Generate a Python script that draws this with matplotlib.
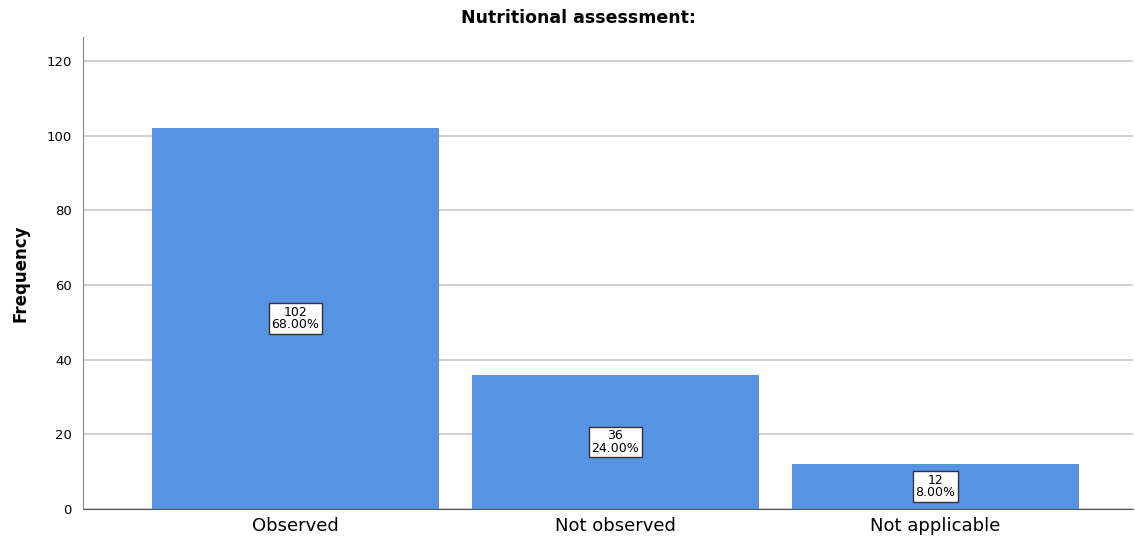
import matplotlib
matplotlib.use('Agg')
from matplotlib import pyplot as plt
import numpy as np

categories = ['Observed', 'Not observed', 'Not applicable']
counts = [102, 36, 12]
percents = ['68.00%', '24.00%', '8.00%']
yticks = [0, 20, 40, 60, 80, 100, 120]

fig = plt.figure(figsize=(11.35, 5.37), dpi=100)
ax = fig.add_axes([0.0731, 0.052, 0.925, 0.879])

x = np.arange(len(categories))
ax.bar(x, counts, width=0.897, color='#5694e3', zorder=2)

for xi, c, p in zip(x, counts, percents):
    ax.text(xi, c / 2, f'{c}\n{p}', ha='center', va='center', fontsize=9,
            linespacing=0.95, zorder=3,
            bbox=dict(boxstyle='square,pad=0.2', fc='white', ec='#333333', lw=1))

ax.set_xlim(-0.664, 2.617)
ax.set_ylim(0, 126.4)
ax.set_yticks(yticks)
ax.set_xticks(x)
ax.set_xticklabels(categories, fontsize=13)
ax.tick_params(axis='both', length=0)
ax.tick_params(axis='y', labelsize=9.5, pad=8)
ax.tick_params(axis='x', pad=6)
ax.yaxis.grid(True, color='#cccccc', lw=1.3, zorder=0)
ax.set_axisbelow(True)

for s in ['top', 'right']:
    ax.spines[s].set_visible(False)
ax.spines['left'].set_color('#888888')
ax.spines['bottom'].set_color('#555555')

ax.set_ylabel('Frequency', fontsize=12, fontweight='bold', labelpad=12)
# title is centred on the figure, not the axes
fig.text(0.51, 0.966, 'Nutritional assessment:', ha='center', va='center',
         fontsize=12.5, fontweight='bold')

fig.savefig('out.png', dpi=100)
